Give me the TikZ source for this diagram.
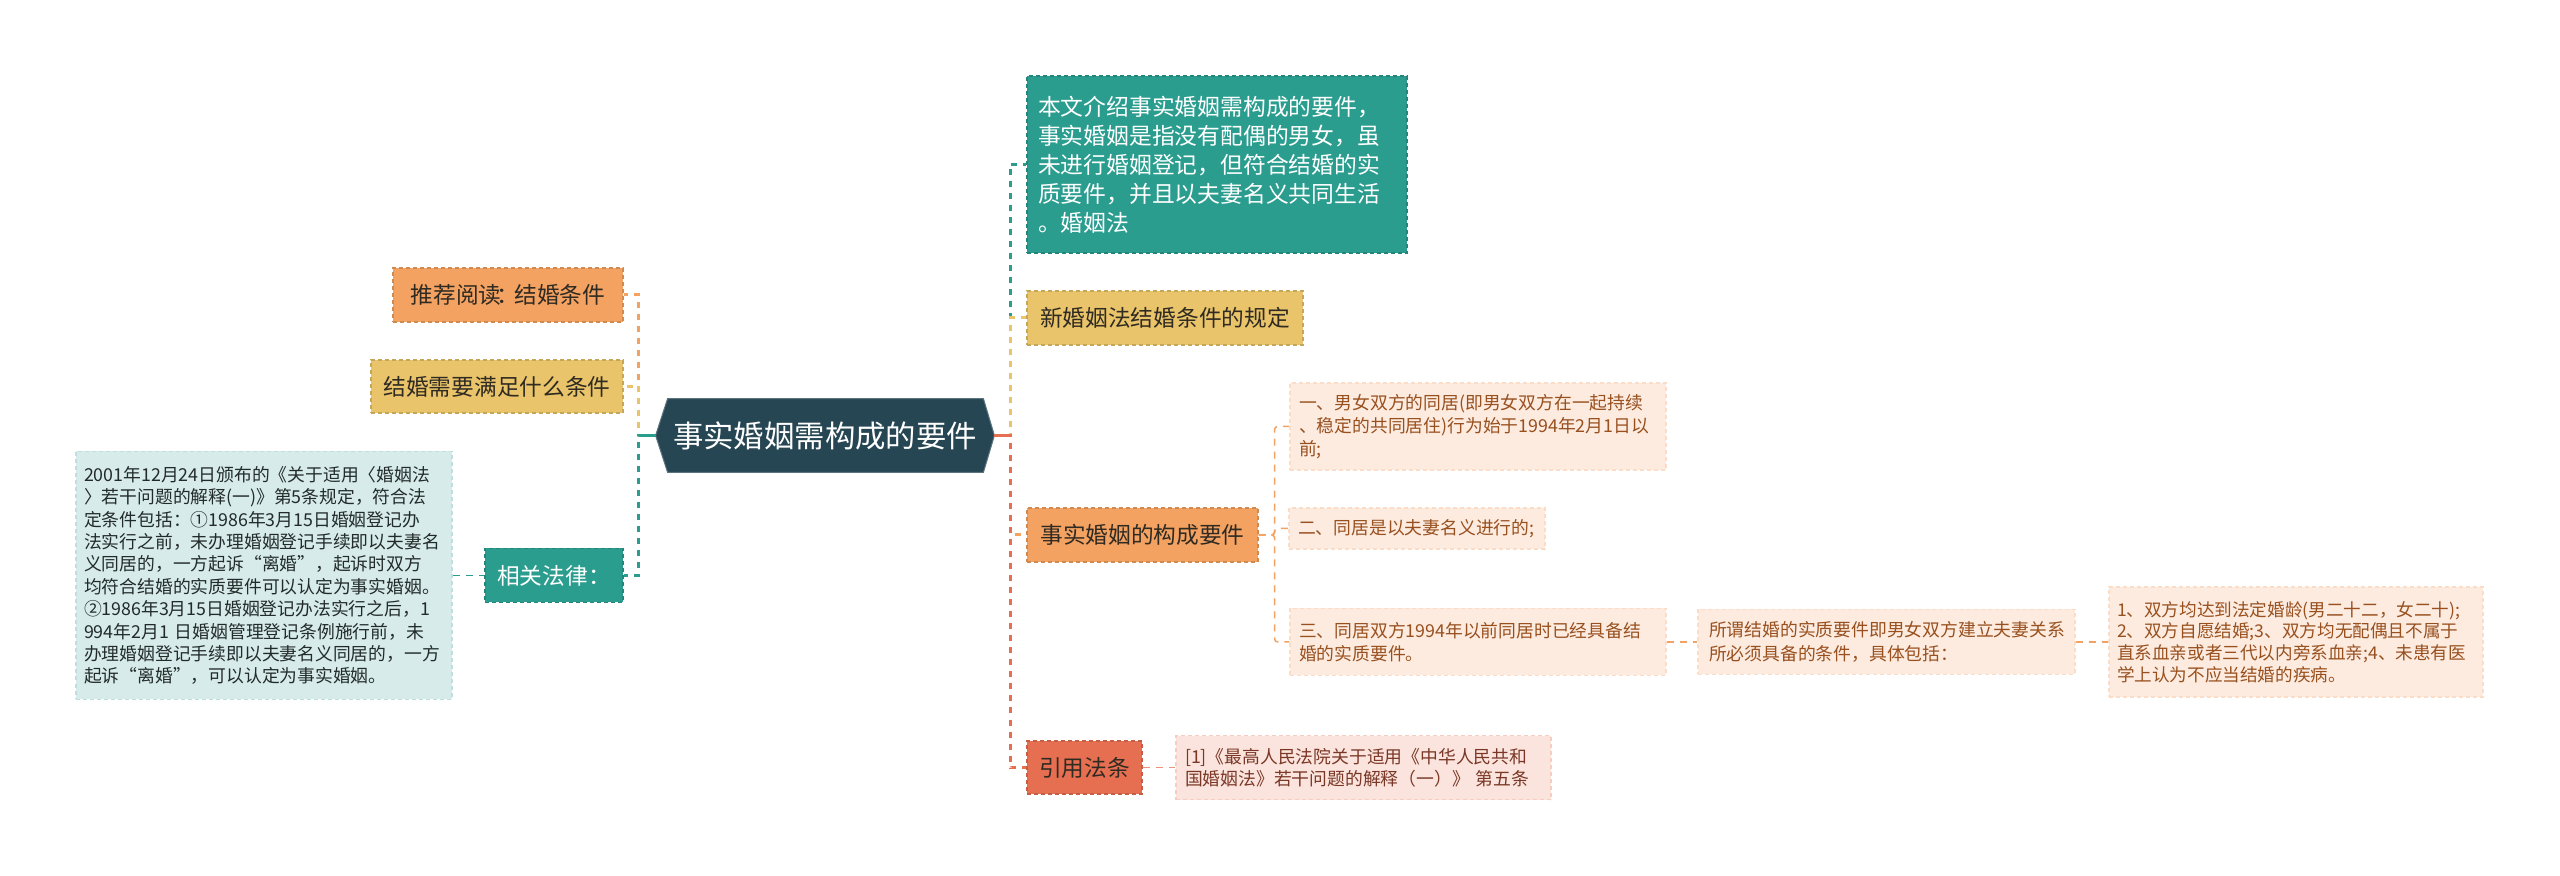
\documentclass[tikz,border=0pt]{standalone}
\usepackage{fontspec}
\setmainfont{Noto Sans CJK SC}
\usetikzlibrary{backgrounds}
\definecolor{rootc}{HTML}{264653}
\definecolor{tealc}{HTML}{2A9D8F}
\definecolor{yelc}{HTML}{E9C46A}
\definecolor{orac}{HTML}{F4A261}
\definecolor{redc}{HTML}{E76F51}
\definecolor{peach}{HTML}{FDEBDF}
\definecolor{peachtx}{HTML}{98501F}
\definecolor{pinkc}{HTML}{FBE4DD}
\definecolor{pinktx}{HTML}{7A3726}
\definecolor{lteal}{HTML}{D7ECEA}
\definecolor{ltealtx}{HTML}{222B2A}
\definecolor{dtx}{HTML}{2F2A22}
\tikzset{
  boxline/.style={line width=0.6pt, dash pattern=on 2pt off 1.5pt},
  mainnode/.style={boxline, inner sep=0pt, align=center, text=dtx,
    font=\fontsize{11.35pt}{14pt}\selectfont},
  subnode/.style={boxline, inner ysep=0pt, align=left, fill=peach,
    draw=peach!80!orac, text=peachtx, font=\fontsize{8.9pt}{11.65pt}\selectfont},
  trunk/.style={line width=1.5pt, dash pattern=on 3pt off 3pt},
  stub/.style={line width=1.5pt},
  twig/.style={line width=0.75pt, dash pattern=on 3.5pt off 3pt},
  rootnode/.style={inner sep=0pt, text=white, minimum width=169pt,
    minimum height=36.5pt, font=\fontsize{15.2pt}{18pt}\selectfont}
}
\begin{document}
\begin{tikzpicture}[x=0.5pt,y=-0.5pt]
\path[use as bounding box] (0,0) rectangle (2560,876);

% root
\node[rootnode] (root) at (825,435.5) {事实婚姻需构成的要件};

% right branches
\node[mainnode, fill=tealc, draw=tealc!85!black, text=white, align=left,
  inner xsep=5.5pt, text width=179pt, minimum height=88.5pt,
  font=\fontsize{11.4pt}{14.5pt}\selectfont] (intro) at (1217,164.5)
  {本文介绍事实婚姻需构成的要件，\\事实婚姻是指没有配偶的男女，虽\\未进行婚姻登记，但符合结婚的实\\质要件，并且以夫妻名义共同生活\\。婚姻法};
\node[mainnode, fill=yelc, draw=yelc!85!black, minimum width=138pt,
  minimum height=27pt] (newlaw) at (1165,318) {新婚姻法结婚条件的规定};
\node[mainnode, fill=orac, draw=orac!85!black, minimum width=115.5pt,
  minimum height=27pt] (facts) at (1142.5,535) {事实婚姻的构成要件};
\node[mainnode, fill=redc, draw=redc!85!black, minimum width=57.5pt,
  minimum height=26.5pt] (cite) at (1084.5,767.5) {引用法条};

% left branches
\node[mainnode, fill=orac, draw=orac!85!black, minimum width=115pt,
  minimum height=27pt] (recommend) at (508,295)
  {推荐阅读\kern-0.22em：\kern-0.22em 结婚条件};
\node[mainnode, fill=yelc, draw=yelc!85!black, minimum width=126pt,
  minimum height=26.5pt] (needs) at (497,386.5) {结婚需要满足什么条件};
\node[mainnode, fill=tealc, draw=tealc!85!black, text=white,
  minimum width=69pt, minimum height=27pt] (related) at (554,575.5) {相关法律：};

\node[boxline, fill=lteal, draw=lteal!85!tealc, text=ltealtx, inner ysep=0pt,
  inner xsep=4pt, text width=180pt, minimum height=124pt, align=left,
  font=\fontsize{8.9pt}{11.2pt}\selectfont] (lawtext) at (264,575.5)
  {2001年12月24日颁布的《关于适用〈婚姻法\\〉若干问题的解释(一)》第5条规定，符合法\\定条件包括：①1986年3月15日婚姻登记办\\法实行之前，未办理婚姻登记手续即以夫妻名\\义同居的，一方起诉“离婚”，起诉时双方\\均符合结婚的实质要件可以认定为事实婚姻。\\②1986年3月15日婚姻登记办法实行之后，1\\994年2月1 日婚姻管理登记条例施行前，未\\办理婚姻登记手续即以夫妻名义同居的，一方\\起诉“离婚”，可以认定为事实婚姻。};

% sub nodes
\node[subnode, inner xsep=4.5pt, text width=179pt, minimum height=43.5pt]
  (s1) at (1478,426.5) {一、男女双方的同居(即男女双方在一起持续\\、稳定的共同居住)行为始于1994年2月1日以\\前;};
\node[subnode, inner xsep=4.5pt, text width=119pt, minimum height=20.5pt]
  (s2) at (1417,528.5) {二、同居是以夫妻名义进行的;};
\node[subnode, inner xsep=4.5pt, text width=179pt, minimum height=33.5pt]
  (s3) at (1478,642) {三、同居双方1994年以前同居时已经具备结\\婚的实质要件。};
\node[subnode, inner xsep=5.5pt, text width=177.5pt, minimum height=32.5pt]
  (means) at (1886.5,642) {所谓结婚的实质要件即男女双方建立夫妻关系\\所必须具备的条件，具体包括：};
\node[subnode, inner xsep=4pt, text width=179pt, minimum height=55pt,
  font=\fontsize{8.8pt}{10.8pt}\selectfont] (s4) at (2296,642)
  {1、双方均达到法定婚龄(男二十二，女二十);\\2、双方自愿结婚;3、双方均无配偶且不属于\\直系血亲或者三代以内旁系血亲;4、未患有医\\学上认为不应当结婚的疾病。};
\node[subnode, fill=pinkc, draw=pinkc!80!redc, text=pinktx, inner xsep=4.5pt,
  text width=178.5pt, minimum height=32pt,
  font=\fontsize{8.9pt}{10.85pt}\selectfont] (citetext) at (1363.5,767.5)
  {[1]《最高人民法院关于适用《中华人民共和\\国婚姻法》若干问题的解释（一）》 第五条};

\begin{scope}[on background layer]
  \fill[white] (0,0) rectangle (2560,876);
  \fill[rootc, draw=rootc!75!white, line width=0.5pt]
    (root.west) -- ([xshift=6pt]root.north west) -- ([xshift=-5.5pt]root.north east)
    -- (root.east) -- ([xshift=-5.5pt]root.south east) -- ([xshift=6pt]root.south west) -- cycle;
  % right trunk
  \draw[trunk, tealc] (root.east) -- ++(16,0) |- (intro.west);
  \draw[trunk, yelc] (root.east) -- ++(16,0) |- (newlaw.west);
  \draw[trunk, orac] (root.east) -- ++(16,0) |- (facts.west);
  \draw[trunk, redc] (root.east) -- ++(16,0) |- (cite.west);
  \draw[stub, redc] (root.east) -- ++(16,0);
  % left trunk
  \draw[trunk, orac] (root.west) -- ++(-17,0) |- (recommend.east);
  \draw[trunk, yelc] (root.west) -- ++(-17,0) |- (needs.east);
  \draw[trunk, tealc] (root.west) -- ++(-17,0) |- (related.east);
  \draw[stub, tealc] (root.west) -- ++(-17,0);
  % sub connectors
  \draw[twig, orac, rounded corners=1.5pt] (facts.east) -- ++(16,0) |- (s1.west);
  \draw[twig, orac, rounded corners=1.5pt] (facts.east) -- ++(16,0) |- (s2.west);
  \draw[twig, orac, rounded corners=1.5pt] (facts.east) -- ++(16,0) |- (s3.west);
  \draw[twig, orac] (s3.east) -- (means.west);
  \draw[twig, orac] (means.east) -- (s4.west);
  \draw[twig, redc!75!white] (cite.east) -- (citetext.west);
  \draw[twig, tealc] (lawtext.east) -- (related.west);
\end{scope}
\end{tikzpicture}
\end{document}
